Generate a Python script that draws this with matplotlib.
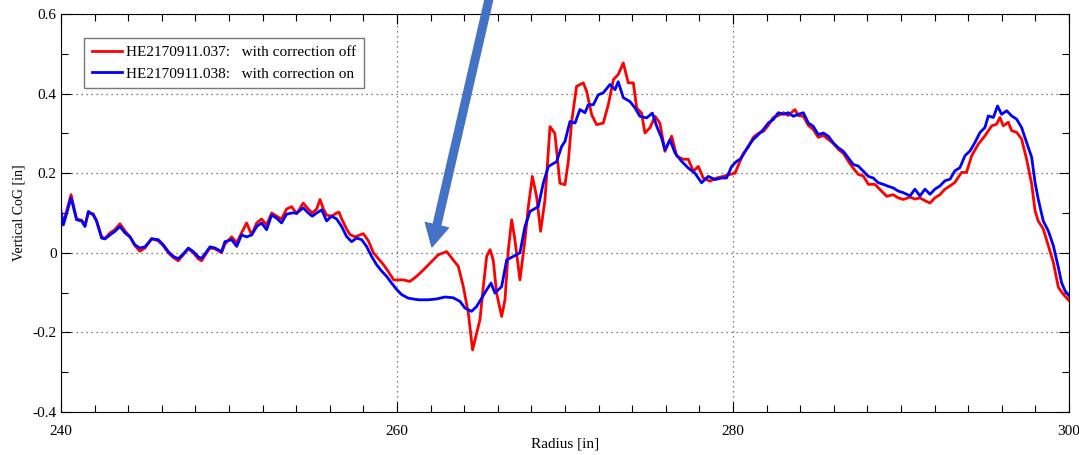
import matplotlib
matplotlib.use("Agg")
import matplotlib.pyplot as plt

# radius [in] and vertical CoG [in]
radius_off = [240.0, 240.14, 240.6, 240.93, 241.23, 241.43, 241.63, 241.92, 242.12, 242.42,
              242.62, 242.92, 243.21, 243.51, 243.81, 244.11, 244.4, 244.7, 245.0, 245.4,
              245.79, 246.09, 246.39, 246.69, 246.98, 247.28, 247.58, 247.88, 248.17, 248.37,
              248.67, 248.87, 249.17, 249.56, 249.76,
              250.16, 250.46, 250.75, 251.05, 251.35, 251.65, 251.94, 252.24, 252.54, 252.84,
              253.13, 253.43, 253.73, 254.03, 254.42, 254.72, 254.96, 255.22, 255.42, 255.62,
              255.81, 256.11, 256.41, 256.55, 256.71, 257.0, 257.2, 257.5, 257.8, 258.0,
              258.3, 258.6, 258.9, 259.2, 259.5, 259.8,
              260.38, 260.77, 261.17, 261.57, 262.06, 262.46, 262.96, 263.35, 263.65, 263.95,
              264.25, 264.5, 264.74, 264.94, 265.14, 265.34, 265.54, 265.73, 265.93, 266.23,
              266.43, 266.63, 266.83, 267.02, 267.32, 267.62, 267.82, 268.06, 268.31, 268.55,
              268.81, 269.11, 269.4, 269.7,
              270.0, 270.2, 270.4, 270.69, 271.09, 271.29, 271.59, 271.88, 272.28, 272.58,
              272.88, 273.17, 273.47, 273.77, 274.07, 274.27, 274.56, 274.76, 275.06, 275.36,
              275.65, 275.95, 276.35, 276.65, 277.04, 277.34, 277.64, 277.94, 278.23, 278.63,
              279.03, 279.42, 279.72,
              280.12, 280.32, 280.62, 280.91, 281.21, 281.51, 281.81, 282.1, 282.4, 282.7,
              283.0, 283.29, 283.69, 283.89, 284.19, 284.49, 284.78, 285.08, 285.38, 285.68,
              285.97, 286.27, 286.57, 286.87, 287.06, 287.46, 287.76, 288.06, 288.45, 288.85,
              289.15, 289.54, 289.84, 290.14,
              290.54, 290.83, 291.13, 291.43, 291.73, 292.02, 292.32, 292.62, 292.92, 293.21,
              293.61, 293.9, 294.21, 294.6, 295.0, 295.4, 295.69, 295.89, 296.09, 296.39,
              296.59, 296.88, 297.18, 297.48, 297.78, 297.98, 298.17, 298.47, 298.77, 299.07,
              299.37, 299.66, 300.0]
cog_off = [0.1, 0.075, 0.146, 0.085, 0.082, 0.07, 0.1, 0.098, 0.08, 0.04,
           0.036, 0.05, 0.058, 0.073, 0.055, 0.04, 0.018, 0.004, 0.012, 0.036,
           0.03, 0.018, 0.0, -0.012, -0.02, -0.005, 0.01, 0.0, -0.015, -0.02,
           0.0, 0.012, 0.01, 0.0, 0.022,
           0.04, 0.025, 0.05, 0.075, 0.045, 0.075, 0.085, 0.07, 0.1, 0.092,
           0.085, 0.11, 0.116, 0.098, 0.125, 0.11, 0.1, 0.11, 0.134, 0.11,
           0.095, 0.092, 0.1, 0.102, 0.085, 0.06, 0.046, 0.04, 0.045, 0.048,
           0.03, 0.0, -0.015, -0.03, -0.048, -0.068,
           -0.068, -0.072, -0.059, -0.043, -0.022, -0.005, 0.003, -0.018, -0.034, -0.085,
           -0.152, -0.244, -0.202, -0.168, -0.085, -0.009, 0.008, -0.018, -0.101, -0.16,
           -0.118, 0.008, 0.083, 0.033, -0.068, 0.033, 0.116, 0.192, 0.142, 0.054,
           0.133, 0.317, 0.3, 0.175,
           0.171, 0.23, 0.33, 0.418, 0.427, 0.406, 0.347, 0.322, 0.326, 0.372,
           0.435, 0.448, 0.477, 0.427, 0.427, 0.364, 0.351, 0.301, 0.314, 0.343,
           0.326, 0.255, 0.293, 0.243, 0.235, 0.235, 0.205, 0.217, 0.188, 0.18,
           0.188, 0.192, 0.196,
           0.2, 0.22, 0.25, 0.265, 0.29, 0.3, 0.305, 0.32, 0.34, 0.345,
           0.352, 0.345, 0.36, 0.345, 0.343, 0.32, 0.31, 0.29, 0.295, 0.285,
           0.275, 0.26, 0.25, 0.23, 0.218, 0.197, 0.193, 0.172, 0.172, 0.155,
           0.142, 0.146, 0.138, 0.134,
           0.14, 0.135, 0.138, 0.131, 0.125, 0.138, 0.146, 0.16, 0.168, 0.177,
           0.202, 0.202, 0.244, 0.273, 0.294, 0.319, 0.323, 0.34, 0.319, 0.328,
           0.307, 0.303, 0.286, 0.235, 0.173, 0.106, 0.08, 0.06, 0.018, -0.024,
           -0.087, -0.104, -0.12]

radius_on = [240.0, 240.14, 240.6, 240.93, 241.23, 241.43, 241.63, 241.92, 242.12, 242.42,
             242.62, 242.92, 243.21, 243.51, 243.81, 244.11, 244.4, 244.7, 245.0, 245.4,
             245.79, 246.09, 246.39, 246.69, 246.98, 247.28, 247.58, 247.88, 248.17, 248.37,
             248.67, 248.87, 249.17, 249.56, 249.76,
             250.16, 250.46, 250.75, 251.05, 251.35, 251.65, 251.94, 252.24, 252.54, 252.84,
             253.13, 253.43, 253.73, 254.03, 254.42, 254.72, 254.96, 255.22, 255.52, 255.81,
             256.11, 256.41, 256.71, 257.0, 257.3, 257.6, 257.9, 258.19, 258.49, 258.79,
             259.09, 259.38, 259.68, 259.98,
             260.28, 260.67, 261.27, 261.87, 262.36, 262.86, 263.35, 263.75, 264.05, 264.44,
             264.74, 265.04, 265.34, 265.6, 265.83, 266.23, 266.53, 266.92, 267.32, 267.62,
             267.92, 268.41, 268.71, 269.01, 269.5, 269.8,
             270.0, 270.3, 270.6, 270.89, 271.19, 271.39, 271.69, 271.98, 272.28, 272.68,
             272.98, 273.17, 273.47, 273.87, 274.17, 274.46, 274.86, 275.2, 275.46, 275.75,
             275.95, 276.25, 276.55, 276.94, 277.34, 277.74, 278.13, 278.53, 278.93, 279.33,
             279.62, 279.92,
             280.22, 280.42, 280.62, 280.91, 281.21, 281.51, 281.81, 282.1, 282.4, 282.7,
             283.0, 283.29, 283.59, 283.89, 284.19, 284.49, 284.78, 285.08, 285.38, 285.68,
             285.97, 286.27, 286.57, 286.87, 287.16, 287.46, 287.76, 288.06, 288.35, 288.65,
             288.95, 289.25, 289.54, 289.84, 290.14,
             290.54, 290.83, 291.13, 291.43, 291.73, 292.02, 292.32, 292.62, 292.92, 293.21,
             293.51, 293.81, 294.11, 294.4, 294.7, 295.0, 295.2, 295.5, 295.75, 295.99,
             296.29, 296.59, 296.88, 297.18, 297.48, 297.78, 297.98, 298.17, 298.47, 298.77,
             299.07, 299.37, 299.56, 299.76, 300.0]
cog_on = [0.104, 0.07, 0.138, 0.083, 0.08, 0.066, 0.104, 0.095, 0.08, 0.037,
          0.035, 0.045, 0.054, 0.066, 0.05, 0.04, 0.02, 0.012, 0.015, 0.035,
          0.033, 0.02, 0.003, -0.009, -0.015, -0.003, 0.012, 0.003, -0.01, -0.014,
          0.003, 0.015, 0.012, 0.003, 0.028,
          0.033, 0.016, 0.045, 0.04, 0.045, 0.066, 0.075, 0.058, 0.095, 0.087,
          0.075, 0.097, 0.1, 0.1, 0.113, 0.1, 0.092, 0.1, 0.108, 0.08,
          0.092, 0.085, 0.066, 0.041, 0.028, 0.037, 0.033, 0.016, -0.009, -0.03,
          -0.046, -0.059, -0.076, -0.092,
          -0.105, -0.114, -0.118, -0.118, -0.116, -0.111, -0.113, -0.122, -0.139, -0.147,
          -0.135, -0.114, -0.093, -0.076, -0.101, -0.085, -0.018, -0.009, 0.0, 0.066,
          0.104, 0.116, 0.175, 0.217, 0.229, 0.267,
          0.28, 0.33, 0.326, 0.36, 0.352, 0.372, 0.372, 0.397, 0.402, 0.423,
          0.41, 0.43, 0.39, 0.38, 0.364, 0.343, 0.339, 0.351, 0.318, 0.289,
          0.259, 0.284, 0.251, 0.23, 0.213, 0.2, 0.176, 0.192, 0.184, 0.188,
          0.188, 0.217,
          0.23, 0.235, 0.247, 0.268, 0.285, 0.297, 0.31, 0.326, 0.335, 0.352,
          0.348, 0.352, 0.343, 0.348, 0.352, 0.326, 0.318, 0.297, 0.301, 0.293,
          0.276, 0.264, 0.255, 0.238, 0.222, 0.218, 0.205, 0.192, 0.188, 0.176,
          0.172, 0.167, 0.163, 0.155, 0.151,
          0.143, 0.16, 0.143, 0.16, 0.147, 0.16, 0.168, 0.181, 0.185, 0.206,
          0.214, 0.244, 0.256, 0.277, 0.302, 0.315, 0.344, 0.34, 0.369, 0.348,
          0.357, 0.344, 0.336, 0.315, 0.277, 0.24, 0.177, 0.135, 0.08, 0.055,
          0.018, -0.037, -0.075, -0.095, -0.108]

label_off = "HE2170911.037:   with correction off"
label_on = "HE2170911.038:   with correction on"

plt.rcParams['font.family'] = ['Liberation Serif', 'DejaVu Serif']
plt.rcParams['font.size'] = 11

fig = plt.figure(figsize=(10.79, 4.55), dpi=100)
ax = fig.add_axes([0.0565, 0.0945, 0.9342, 0.8747])

ax.plot(radius_off, cog_off, color='red', linewidth=2, label=label_off, zorder=3)
ax.plot(radius_on, cog_on, color='blue', linewidth=2, label=label_on, zorder=4)

ax.set_xlim(240, 300)
ax.set_ylim(-0.4, 0.6)
ax.set_xticks([240, 260, 280, 300])
ax.set_yticks([-0.4, -0.2, 0, 0.2, 0.4, 0.6])
ax.set_yticklabels(['-0.4', '-0.2', '0', '0.2', '0.4', '0.6'])
ax.set_xticks(range(240, 301, 2), minor=True)
ax.set_yticks([-0.3, -0.1, 0.1, 0.3, 0.5], minor=True)
ax.tick_params(which='both', direction='in', top=True, right=True, width=0.8, colors='black')
ax.tick_params(which='major', length=7)
ax.tick_params(which='minor', length=5)
ax.tick_params(axis='x', pad=9)
ax.tick_params(axis='y', pad=3)

# dotted grid on the major ticks only
ax.grid(which='major', linestyle=(0, (1, 3)), color='#555555', linewidth=0.9)
ax.set_axisbelow(True)

ax.set_xlabel("Radius [in]")
ax.set_ylabel("Vertical CoG [in]", fontsize=10)
ax.xaxis.set_label_coords(0.5, -0.065)
ax.yaxis.set_label_coords(-0.035, 0.5)

leg = ax.legend(loc='upper left', bbox_to_anchor=(0.023, 0.94), frameon=True, fancybox=False,
                edgecolor='#777777', framealpha=1, handlelength=2.0, handletextpad=0.25,
                borderpad=0.5, labelspacing=0.5, borderaxespad=0)
leg.get_frame().set_linewidth(1.0)

# blue arrow pointing at the dip
ax.annotate('', xy=(262.08, 0.015), xytext=(265.6, 0.66),
            arrowprops=dict(arrowstyle='simple,head_width=1.7,head_length=1.6,tail_width=0.55',
                            color='#4472C4', shrinkA=0, shrinkB=0, mutation_scale=10),
            annotation_clip=False)

fig.savefig('out.png', dpi=100)
